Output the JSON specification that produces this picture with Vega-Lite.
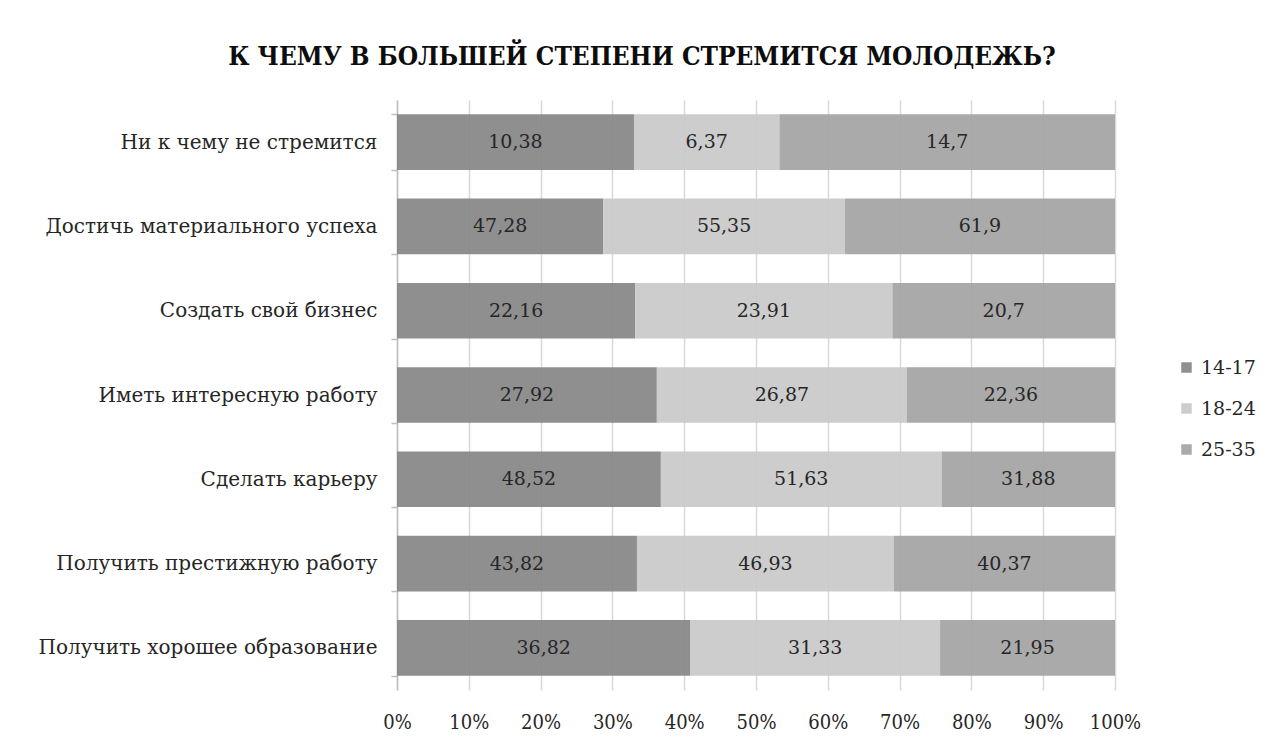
{
  "$schema": "https://vega.github.io/schema/vega-lite/v6.json",
  "width": 718,
  "height": 590,
  "autosize": {"type": "none"},
  "padding": {"left": 397, "top": 100, "right": 168, "bottom": 58},
  "background": "white",
  "config": {"view": {"stroke": null}},
  "title": {
    "text": "К ЧЕМУ В БОЛЬШЕЙ СТЕПЕНИ СТРЕМИТСЯ МОЛОДЕЖЬ?",
    "font": "DejaVu Serif Condensed",
    "fontSize": 26,
    "fontWeight": "bold",
    "color": "#0d0d0d",
    "anchor": "middle",
    "frame": "group",
    "dx": -114,
    "offset": 7,
    "baseline": "middle"
  },
  "data": {
    "values": [
      {"cat": "Ни к чему не стремится", "group": "14-17", "ord": 1, "value": 10.38, "label": "10,38"},
      {"cat": "Ни к чему не стремится", "group": "18-24", "ord": 2, "value": 6.37, "label": "6,37"},
      {"cat": "Ни к чему не стремится", "group": "25-35", "ord": 3, "value": 14.7, "label": "14,7"},
      {"cat": "Достичь материального успеха", "group": "14-17", "ord": 1, "value": 47.28, "label": "47,28"},
      {"cat": "Достичь материального успеха", "group": "18-24", "ord": 2, "value": 55.35, "label": "55,35"},
      {"cat": "Достичь материального успеха", "group": "25-35", "ord": 3, "value": 61.9, "label": "61,9"},
      {"cat": "Создать свой бизнес", "group": "14-17", "ord": 1, "value": 22.16, "label": "22,16"},
      {"cat": "Создать свой бизнес", "group": "18-24", "ord": 2, "value": 23.91, "label": "23,91"},
      {"cat": "Создать свой бизнес", "group": "25-35", "ord": 3, "value": 20.7, "label": "20,7"},
      {"cat": "Иметь интересную работу", "group": "14-17", "ord": 1, "value": 27.92, "label": "27,92"},
      {"cat": "Иметь интересную работу", "group": "18-24", "ord": 2, "value": 26.87, "label": "26,87"},
      {"cat": "Иметь интересную работу", "group": "25-35", "ord": 3, "value": 22.36, "label": "22,36"},
      {"cat": "Сделать карьеру", "group": "14-17", "ord": 1, "value": 48.52, "label": "48,52"},
      {"cat": "Сделать карьеру", "group": "18-24", "ord": 2, "value": 51.63, "label": "51,63"},
      {"cat": "Сделать карьеру", "group": "25-35", "ord": 3, "value": 31.88, "label": "31,88"},
      {"cat": "Получить престижную работу", "group": "14-17", "ord": 1, "value": 43.82, "label": "43,82"},
      {"cat": "Получить престижную работу", "group": "18-24", "ord": 2, "value": 46.93, "label": "46,93"},
      {"cat": "Получить престижную работу", "group": "25-35", "ord": 3, "value": 40.37, "label": "40,37"},
      {"cat": "Получить хорошее образование", "group": "14-17", "ord": 1, "value": 36.82, "label": "36,82"},
      {"cat": "Получить хорошее образование", "group": "18-24", "ord": 2, "value": 31.33, "label": "31,33"},
      {"cat": "Получить хорошее образование", "group": "25-35", "ord": 3, "value": 21.95, "label": "21,95"}
    ]
  },
  "encoding": {
    "y": {
      "field": "cat",
      "type": "nominal",
      "sort": null,
      "title": null,
      "scale": {"paddingInner": 0.34, "paddingOuter": 0.17},
      "axis": {
        "labelFont": "DejaVu Serif",
        "labelFontSize": 20,
        "labelColor": "#262626",
        "labelPadding": 14,
        "labelLimit": 400,
        "domainColor": "#bfbfbf",
        "domainWidth": 1.5,
        "tickColor": "#bfbfbf",
        "tickWidth": 1.5,
        "tickSize": 6,
        "tickBand": "extent",
        "grid": false
      }
    },
    "x": {
      "field": "value",
      "type": "quantitative",
      "stack": "normalize",
      "title": null,
      "scale": {"domain": [0, 1], "nice": false},
      "axis": {
        "format": ".0%",
        "values": [0, 0.1, 0.2, 0.3, 0.4, 0.5, 0.6, 0.7, 0.8, 0.9, 1],
        "labelOverlap": false,
        "labelFlush": false,
        "labelFont": "DejaVu Serif Condensed",
        "labelFontSize": 20,
        "labelColor": "#262626",
        "labelPadding": 22,
        "ticks": false,
        "domain": false,
        "grid": true,
        "gridColor": "#d9d9d9",
        "gridWidth": 1.5
      }
    },
    "order": {"field": "ord", "type": "quantitative"}
  },
  "layer": [
    {
      "mark": {"type": "bar", "fillOpacity": 0.92},
      "encoding": {
        "color": {
          "field": "group",
          "type": "nominal",
          "title": null,
          "scale": {"domain": ["14-17", "18-24", "25-35"], "range": ["#858585", "#c9c9c9", "#a3a3a3"]},
          "legend": {
            "orient": "none",
            "legendX": 780,
            "legendY": 258,
            "symbolType": "square",
            "symbolSize": 110,
            "symbolStrokeWidth": 0,
            "symbolOpacity": 0.92,
            "labelFont": "DejaVu Serif",
            "labelFontSize": 19,
            "labelColor": "#262626",
            "rowPadding": 21,
            "labelOffset": 5
          }
        }
      }
    },
    {
      "mark": {"type": "text", "font": "DejaVu Serif", "fontSize": 19, "color": "#262626", "baseline": "middle", "align": "center"},
      "encoding": {
        "x": {"field": "value", "type": "quantitative", "stack": "normalize", "bandPosition": 0.5},
        "text": {"field": "label"}
      }
    }
  ]
}
